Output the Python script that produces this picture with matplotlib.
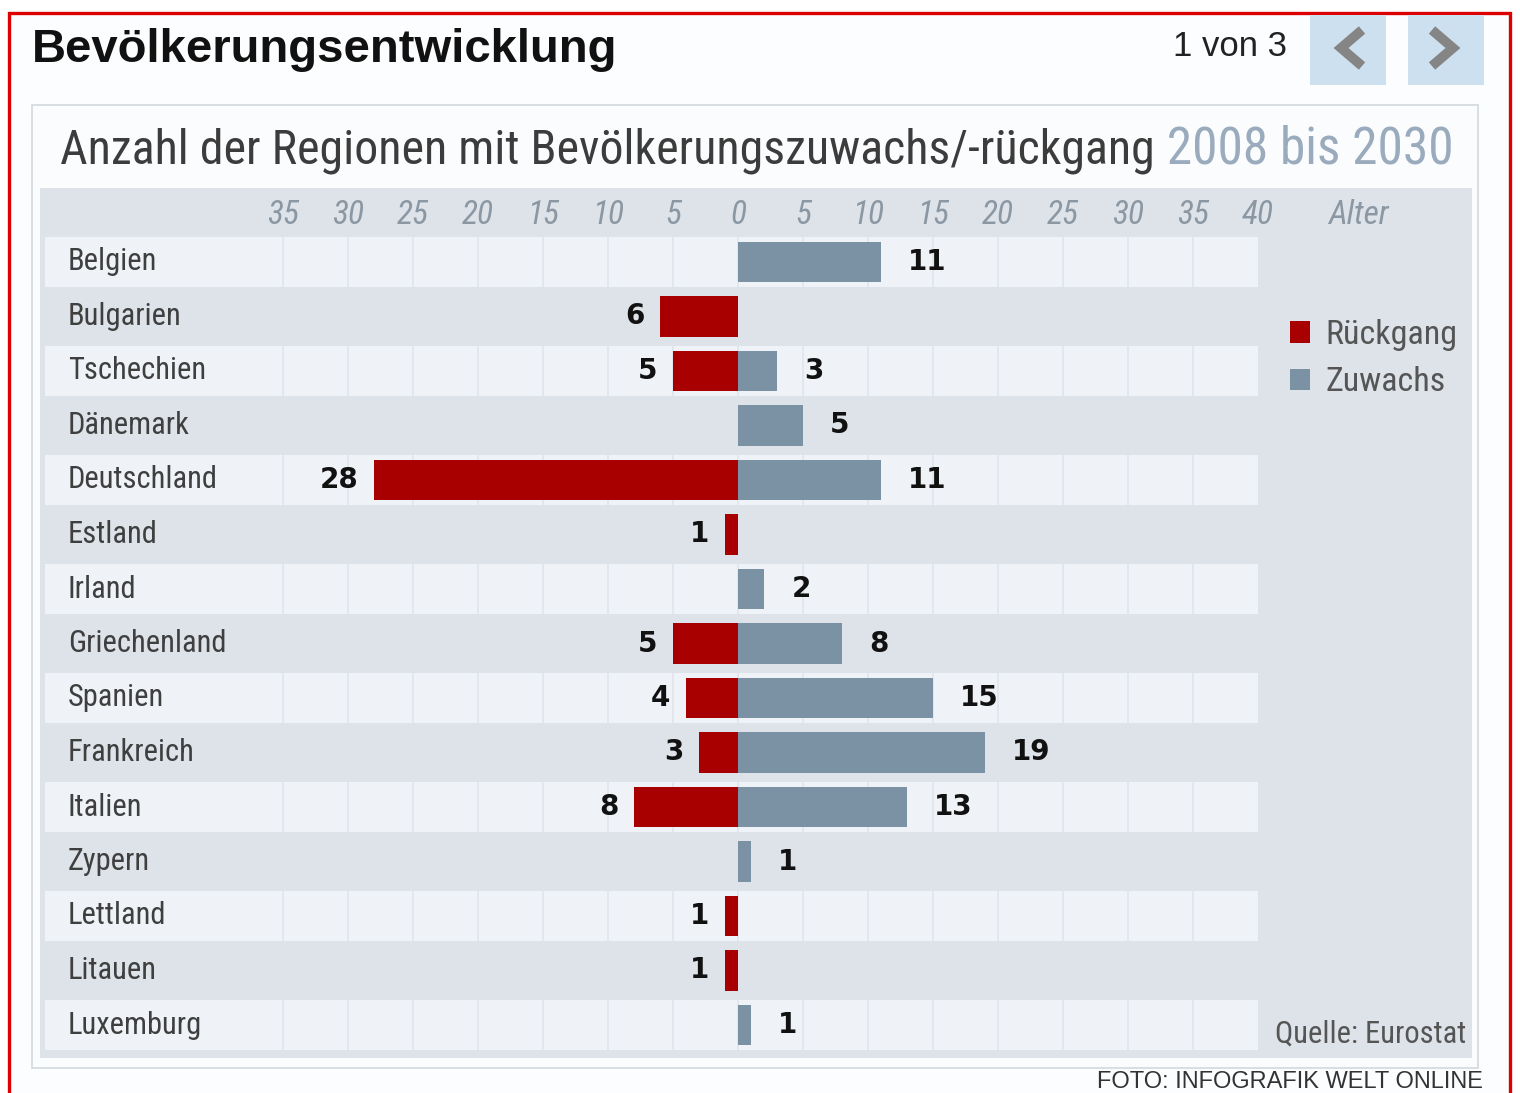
import matplotlib
matplotlib.use('Agg')
import matplotlib.pyplot as plt
from matplotlib import font_manager
from matplotlib.patches import Rectangle
from matplotlib.lines import Line2D

countries = ['Belgien', 'Bulgarien', 'Tschechien', 'Dänemark', 'Deutschland', 'Estland', 'Irland',
             'Griechenland', 'Spanien', 'Frankreich', 'Italien', 'Zypern', 'Lettland', 'Litauen', 'Luxemburg']
rueckgang = [0, 6, 5, 0, 28, 1, 0, 5, 4, 3, 8, 0, 1, 1, 0]
zuwachs = [11, 0, 3, 5, 11, 0, 2, 8, 15, 19, 13, 1, 0, 0, 1]
tick_values = list(range(-35, 45, 5))
tick_labels = [str(abs(v)) for v in tick_values]

RED = '#a80000'
BLUE = '#7b91a4'
PANEL = '#dde3e9'
BAND = '#eff3f7'

W, H = 1520, 1093
installed = {f.name for f in font_manager.fontManager.ttflist}


def first_font(*names):
    for n in names:
        if n in installed:
            return n
    return 'DejaVu Sans'


narrow = first_font('Liberation Sans Narrow', 'DejaVu Sans Condensed', 'Roboto Condensed', 'Liberation Sans')
arial = first_font('Liberation Sans', 'Arimo', 'DejaVu Sans')


def px(x, y):
    return x / W, 1 - y / H


fig = plt.figure(figsize=(W / 100, H / 100), dpi=100, facecolor='white')

# frame, panel and header decorations (kept behind the axes)
fig.add_artist(Rectangle(px(9, 1100), 1501 / W, 1087 / H, transform=fig.transFigure,
                         facecolor='#fcfdfe', edgecolor='#dd0000', lw=2.4, zorder=-3))
fig.add_artist(Rectangle(px(32, 1068), 1446 / W, 963 / H, transform=fig.transFigure,
                         facecolor='#fbfcfd', edgecolor='#d3d8dd', lw=1.2, zorder=-2))
for x0 in (1310, 1408):
    fig.add_artist(Rectangle(px(x0, 85), 76 / W, 70 / H, transform=fig.transFigure,
                             facecolor='#cde0ef', edgecolor='none', zorder=-2))
for xs in ([1362, 1341, 1362], [1432, 1453, 1432]):
    fig.add_artist(Line2D([x / W for x in xs], [1 - y / H for y in (30, 48, 66)],
                          transform=fig.transFigure, color='#858585', lw=7,
                          solid_capstyle='butt', solid_joinstyle='miter', zorder=-1))

fig.text(*px(32, 50), 'Bevölkerungsentwicklung', family=arial, weight='bold', fontsize=34,
         va='center', ha='left', color='#111111')
fig.text(*px(1287, 47), '1 von 3', family=arial, fontsize=25, va='center', ha='right', color='#222222')

sub = fig.text(*px(60, 151), 'Anzahl der Regionen mit Bevölkerungszuwachs/-rückgang', family=narrow,
               fontsize=34.5, va='center', ha='left', color='#3c3c3c')

ax = fig.add_axes([40 / W, 1 - 1058 / H, 1432 / W, 870 / H])
ax.annotate(' 2008 bis 2030', xy=(1, 0), xycoords=sub, va='bottom', ha='left',
            family=narrow, fontsize=37, color='#9aabbd')

ax.set_facecolor(PANEL)
ax.set_xlim((40 - 738) / 13, (1472 - 738) / 13)
ax.set_ylim((1058 - 262) / 54.5, (188 - 262) / 54.5)
for s in ax.spines.values():
    s.set_visible(False)
ax.set_xticks([])
ax.set_yticks([])

rows = list(range(len(countries)))
band_left, band_right = (45 - 738) / 13, 40
ax.barh(rows[::2], band_right - band_left, left=band_left, height=0.9, color=BAND, zorder=1)
for i in rows[::2]:
    ax.vlines(tick_values[:-1], i - 0.45, i + 0.45, color='#dfe5eb', lw=1.2, zorder=2)

bar_r = ax.barh(rows, [-v for v in rueckgang], height=0.74, color=RED, zorder=3)
bar_z = ax.barh(rows, zuwachs, height=0.74, color=BLUE, zorder=3)

for i, v in enumerate(zuwachs):
    if v:
        ax.text(v + 2.1, i, str(v), ha='left', va='center', family='DejaVu Sans',
                weight='bold', fontsize=20, color='#111111')
for i, v in enumerate(rueckgang):
    if v:
        ax.text(-v - 1.2, i, str(v), ha='right', va='center', family='DejaVu Sans',
                weight='bold', fontsize=20, color='#111111')

for i, name in enumerate(countries):
    ax.text((68 - 738) / 13, i, name, ha='left', va='center', family=narrow,
            fontsize=22, color='#3f3f3f')

for v, lab in zip(tick_values, tick_labels):
    ax.text(v, -0.86, lab, ha='center', va='center', family=narrow, style='italic',
            fontsize=24, color='#8b97a3')
ax.text((1358 - 738) / 13, -0.86, 'Alter', ha='center', va='center', family=narrow,
        style='italic', fontsize=24, color='#8b97a3')

ax.legend([bar_r, bar_z], ['Rückgang', 'Zuwachs'], loc='upper left',
          bbox_to_anchor=px(1290, 319), bbox_transform=fig.transFigure, frameon=False,
          prop={'family': narrow, 'size': 24.5}, labelcolor='#555555', handlelength=0.6,
          handleheight=0.6, handletextpad=0.45, labelspacing=0.45, borderpad=0, borderaxespad=0)

fig.text(*px(1466, 1034), 'Quelle: Eurostat', family=narrow, fontsize=22, ha='right',
         va='center', color='#555555')
fig.text(*px(1483, 1082), 'FOTO: INFOGRAFIK WELT ONLINE', family=arial, fontsize=17,
         ha='right', va='center', color='#333333')

fig.savefig('out.png', dpi=100, facecolor='white')
